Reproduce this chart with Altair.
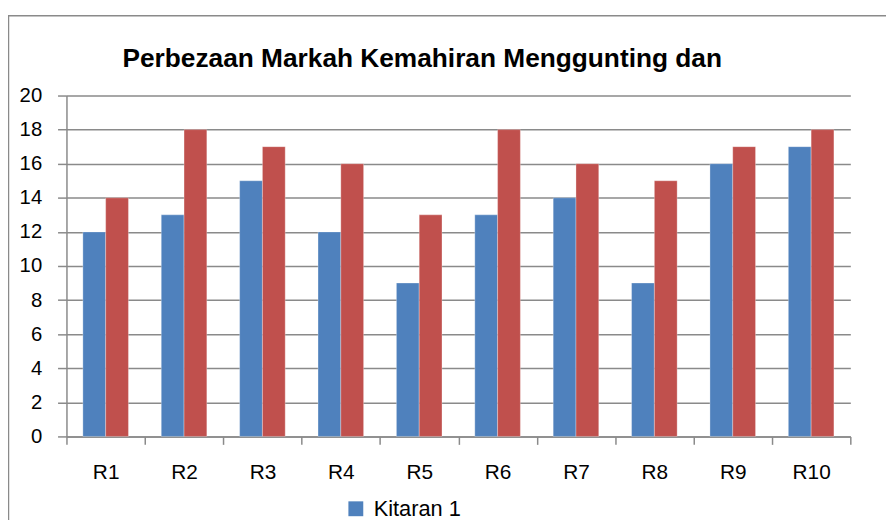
import altair as alt
import pandas as pd

categories = ["R1", "R2", "R3", "R4", "R5", "R6", "R7", "R8", "R9", "R10"]
kitaran1 = [12, 13, 15, 12, 9, 13, 14, 9, 16, 17]
kitaran2 = [14, 18, 17, 16, 13, 18, 16, 15, 17, 18]
series_names = ["Kitaran 1", "Kitaran 2"]
series_colors = ["#4F81BD", "#C0504D"]
y_ticks = [0, 2, 4, 6, 8, 10, 12, 14, 16, 18, 20]
title_text = "Perbezaan Markah Kemahiran Menggunting dan"

rows = []
for c, a, b in zip(categories, kitaran1, kitaran2):
    rows.append({"cat": c, "series": series_names[0], "value": a})
    rows.append({"cat": c, "series": series_names[1], "value": b})
df = pd.DataFrame(rows)

GRAY = "#8a8a8a"
FONT = "Liberation Sans"

bars = alt.Chart(df).mark_bar(stroke="white", strokeWidth=0.5, strokeOpacity=0.6).encode(
    x=alt.X(
        "cat:N",
        sort=categories,
        scale=alt.Scale(paddingInner=0, paddingOuter=0),
        axis=alt.Axis(
            title=None,
            labelAngle=0,
            tickBand="extent",
            tickSize=8,
            tickWidth=1.5,
            tickColor=GRAY,
            domainColor=GRAY,
            domainWidth=1.5,
            labelFont=FONT,
            labelFontSize=21,
            labelColor="black",
            labelPadding=17,
            grid=False,
        ),
    ),
    xOffset=alt.XOffset(
        "series:N",
        sort=series_names,
        scale=alt.Scale(paddingInner=0, paddingOuter=0.72),
    ),
    y=alt.Y(
        "value:Q",
        scale=alt.Scale(domain=[0, 20], nice=False),
        axis=alt.Axis(
            title=None,
            values=y_ticks,
            tickSize=9,
            tickWidth=1.5,
            tickColor=GRAY,
            domainColor=GRAY,
            domainWidth=1.5,
            grid=True,
            gridColor=GRAY,
            gridWidth=1.5,
            labelFont=FONT,
            labelFontSize=20.5,
            labelColor="black",
            labelPadding=16,
        ),
    ),
    color=alt.Color(
        "series:N",
        sort=series_names,
        scale=alt.Scale(domain=series_names, range=series_colors),
        legend=alt.Legend(
            title=None,
            values=[series_names[0]],
            orient="none",
            legendX=281,
            legendY=406,
            direction="horizontal",
            symbolType="square",
            symbolSize=225,
            symbolStrokeWidth=0,
            labelFont=FONT,
            labelFontSize=22,
            labelColor="black",
            labelOffset=7,
        ),
    ),
)

frame = alt.Chart(alt.Data(values=[{"f": 1}])).mark_rect(
    fill="white", fillOpacity=0, stroke=GRAY, strokeWidth=1.5
).encode(
    x=alt.value(-58.5),
    y=alt.value(-80.5),
    x2=alt.value(1000),
    y2=alt.value(1000),
)

title = alt.Chart(alt.Data(values=[{"t": title_text}])).mark_text(
    font=FONT, fontSize=26.5, fontWeight="bold", color="black",
    align="center", baseline="alphabetic",
).encode(
    text="t:N",
    x=alt.value(359),
    y=alt.value(-29),
)

chart = alt.layer(frame, bars, title).properties(
    width=791,
    height=344,
    autosize=alt.AutoSizeParams(type="none"),
    padding={"left": 59, "top": 86, "right": 36, "bottom": 82},
).configure_view(stroke=None)

chart.save("out.html", embed_options={"renderer": "svg", "actions": False})
